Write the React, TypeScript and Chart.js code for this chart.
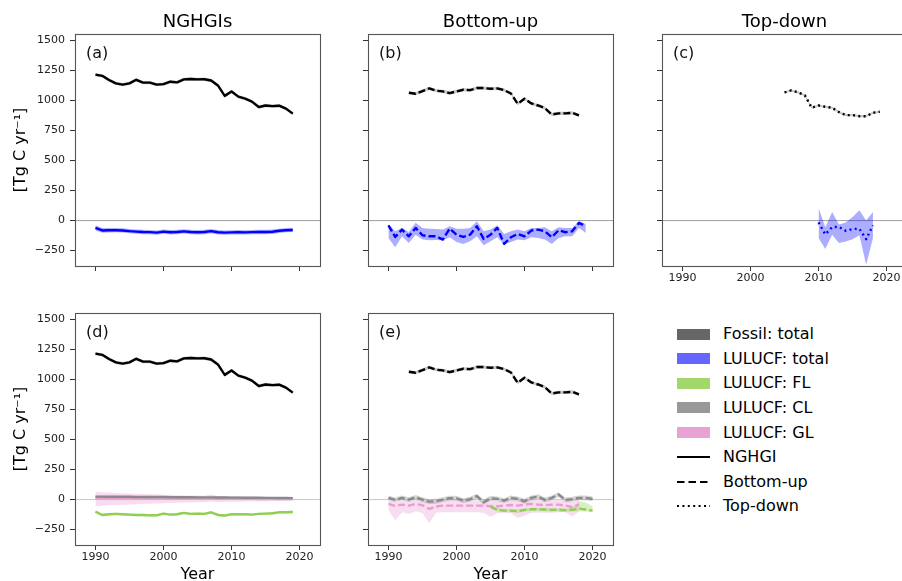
import React, { useEffect, useRef } from 'react';
import { Chart, registerables } from 'chart.js';

Chart.register(...registerables);

const FONT = "'DejaVu Sans', 'Noto Sans', sans-serif";

// ---------------- data ----------------
const X_TICKS = [1990, 2000, 2010, 2020];
const Y_TICKS = [-250, 0, 250, 500, 750, 1000, 1250, 1500];

// NGHGI (national inventories)
const yearsNG = [1990, 1991, 1992, 1993, 1994, 1995, 1996, 1997, 1998, 1999, 2000, 2001, 2002, 2003, 2004, 2005, 2006, 2007, 2008, 2009, 2010, 2011, 2012, 2013, 2014, 2015, 2016, 2017, 2018, 2019];
const fossilNG = [1215, 1205, 1170, 1142, 1132, 1142, 1172, 1148, 1148, 1132, 1136, 1156, 1150, 1175, 1178, 1175, 1176, 1166, 1125, 1038, 1075, 1032, 1015, 990, 945, 958, 953, 956, 932, 890];
const fossilNGUnc = [14, 14, 14, 14, 14, 14, 14, 14, 14, 14, 14, 14, 14, 14, 14, 14, 14, 14, 14, 14, 14, 14, 14, 14, 14, 14, 14, 14, 14, 14];
const lulucfNG = [-60, -82, -80, -80, -82, -88, -92, -95, -96, -100, -92, -97, -95, -90, -95, -97, -95, -88, -97, -100, -98, -97, -98, -96, -95, -95, -93, -85, -80, -78];
const lulucfNGUnc = [22, 20, 19, 18, 18, 18, 18, 18, 18, 18, 18, 18, 18, 18, 18, 18, 18, 18, 18, 18, 18, 18, 18, 18, 18, 18, 18, 18, 18, 18];
const flNG = [-100, -128, -122, -119, -122, -125, -128, -128, -131, -131, -117, -125, -122, -111, -119, -117, -119, -106, -128, -133, -122, -122, -122, -125, -119, -117, -114, -106, -106, -103];
const flNGUnc = [10, 10, 10, 10, 10, 10, 10, 10, 10, 10, 10, 10, 10, 10, 10, 10, 10, 10, 10, 10, 10, 10, 10, 10, 10, 10, 10, 10, 10, 10];
const clNG = [25, 25, 24, 24, 23, 23, 22, 22, 22, 21, 21, 20, 20, 19, 19, 18, 18, 18, 17, 17, 16, 16, 15, 15, 15, 14, 14, 13, 13, 12];
const clNGUnc = [7, 7, 7, 7, 7, 7, 7, 7, 7, 7, 7, 7, 7, 7, 7, 7, 7, 7, 7, 7, 7, 7, 7, 7, 7, 7, 7, 7, 7, 7];
const glNG = [12, 12, 11, 11, 11, 10, 10, 10, 9, 9, 9, 9, 8, 8, 8, 8, 7, 10, 7, 7, 6, 6, 6, 6, 5, 5, 5, 5, 5, 5];
const glNGHigh = [65, 62, 58, 55, 52, 50, 48, 46, 44, 42, 40, 38, 36, 35, 34, 33, 32, 42, 30, 29, 28, 27, 26, 25, 24, 23, 22, 21, 20, 20];
const glNGLow = [-55, -52, -48, -45, -42, -40, -38, -36, -34, -32, -30, -28, -26, -25, -24, -23, -22, -15, -20, -19, -18, -17, -16, -15, -14, -13, -12, -11, -10, -10];

// Bottom-up estimates
const yearsBUFossil = [1993, 1994, 1995, 1996, 1997, 1998, 1999, 2000, 2001, 2002, 2003, 2004, 2005, 2006, 2007, 2008, 2009, 2010, 2011, 2012, 2013, 2014, 2015, 2016, 2017, 2018];
const fossilBU = [1064, 1056, 1078, 1100, 1081, 1075, 1061, 1075, 1089, 1086, 1103, 1103, 1097, 1100, 1086, 1058, 972, 1014, 975, 958, 936, 883, 892, 892, 897, 875];
const fossilBUUnc = [13, 13, 13, 13, 13, 13, 13, 13, 13, 13, 13, 13, 13, 13, 13, 13, 13, 13, 13, 13, 13, 13, 13, 13, 13, 13];
const yearsBULulucf = [1990, 1991, 1992, 1993, 1994, 1995, 1996, 1997, 1998, 1999, 2000, 2001, 2002, 2003, 2004, 2005, 2006, 2007, 2008, 2009, 2010, 2011, 2012, 2013, 2014, 2015, 2016, 2017, 2018, 2019];
const lulucfBU = [-39, -136, -75, -131, -61, -122, -131, -131, -158, -67, -117, -136, -117, -47, -153, -117, -61, -194, -139, -111, -131, -83, -75, -89, -139, -81, -97, -89, -19, -47];
const lulucfBUHigh = [-28, -89, -61, -95, -19, -61, -67, -70, -75, -47, -67, -67, -61, -6, -89, -75, -39, -111, -89, -75, -89, -61, -61, -56, -89, -56, -61, -61, -6, -28];
const lulucfBULow = [-144, -222, -131, -186, -117, -158, -164, -161, -164, -139, -178, -194, -172, -131, -205, -172, -139, -200, -178, -158, -164, -139, -144, -158, -194, -144, -131, -131, -61, -103];
const yearsBUCL = [1990, 1991, 1992, 1993, 1994, 1995, 1996, 1997, 1998, 1999, 2000, 2001, 2002, 2003, 2004, 2005, 2006, 2007, 2008, 2009, 2010, 2011, 2012, 2013, 2014, 2015, 2016, 2017, 2018, 2019, 2020];
const clBU = [14, -3, 14, 0, 19, 0, -17, -14, 0, 11, 11, -8, 3, 28, -22, 11, 6, -8, 14, 6, -14, 14, 25, -3, 14, 42, -3, 3, 14, 14, 6];
const clBUUnc = [20, 20, 20, 20, 20, 20, 20, 20, 20, 20, 20, 20, 20, 20, 20, 20, 20, 20, 20, 20, 20, 20, 20, 20, 20, 20, 20, 20, 20, 20, 20];
const yearsBUGL = [1990, 1991, 1992, 1993, 1994, 1995, 1996, 1997, 1998, 1999, 2000, 2001, 2002, 2003, 2004, 2005, 2006, 2007, 2008, 2009, 2010, 2011, 2012, 2013, 2014, 2015, 2016, 2017, 2018];
const glBU = [-36, -53, -42, -50, -36, -47, -78, -58, -50, -50, -50, -50, -50, -50, -50, -55, -55, -50, -45, -50, -42, -36, -42, -47, -42, -42, -50, -64, -42];
const glBUHigh = [-5, -20, -10, -15, -5, -10, -25, -15, -8, -8, -8, -8, -8, -8, -10, -10, -15, -10, -5, -10, -5, -3, -5, -8, -5, -5, -10, -20, -5];
const glBULow = [-86, -175, -106, -120, -97, -114, -197, -110, -106, -106, -106, -106, -106, -106, -110, -142, -115, -110, -112, -153, -135, -112, -108, -112, -110, -105, -106, -142, -100];
const yearsBUFL = [2005, 2006, 2007, 2008, 2009, 2010, 2011, 2012, 2013, 2014, 2015, 2016, 2017, 2018, 2019, 2020];
const flBU = [-58, -86, -92, -92, -97, -86, -81, -81, -83, -86, -86, -88, -86, -75, -82, -92];
const flBUHigh = [-45, -72, -78, -78, -82, -72, -68, -68, -70, -72, -72, -75, -70, -14, -25, -55];
const flBULow = [-72, -100, -106, -106, -112, -100, -95, -95, -97, -100, -100, -102, -100, -97, -100, -105];

// Top-down (inversions)
const yearsTDFossil = [2005, 2006, 2007, 2008, 2009, 2010, 2011, 2012, 2013, 2014, 2015, 2016, 2017, 2018, 2019];
const fossilTD = [1067, 1083, 1067, 1042, 939, 958, 947, 939, 903, 878, 878, 869, 869, 897, 906];
const fossilTDUnc = [9, 9, 9, 9, 9, 9, 9, 9, 9, 9, 9, 9, 9, 9, 9];
const yearsTDLulucf = [2010, 2011, 2012, 2013, 2014, 2015, 2016, 2017, 2018];
const lulucfTD = [-15, -115, -53, -53, -85, -70, -68, -155, -40];
const lulucfTDHigh = [105, -55, 72, -33, -15, 30, 86, 0, 72];
const lulucfTDLow = [-145, -236, -117, -186, -175, -155, -122, -367, -145];

// ---------------- styling ----------------
const X_MIN = 1987;
const X_MAX = 2023;
const Y_MIN = -378;
const Y_MAX = 1553;

const BLACK = '#000000';
const FOSSIL_BAND = 'rgba(0,0,0,0.22)';
const BLUE = '#0000ff';
const BLUE_BAND = 'rgba(0,0,255,0.32)';
const GREEN = '#8fd04f';
const GREEN_BAND = 'rgba(143,208,79,0.35)';
const GRAY = '#8a8a8a';
const GRAY_BAND = 'rgba(128,128,128,0.32)';
const PINK = '#ea9cd4';
const PINK_BAND = 'rgba(227,119,194,0.25)';

const DASHED = [7, 3];
const DOTTED = [2, 3.3];

type Layer =
  | { type: 'band'; x: number[]; lo: number[]; hi: number[]; fill: string }
  | { type: 'line'; x: number[]; y: number[]; color: string; dash?: number[]; width?: number };

const minus = (a: number[], b: number[]) => a.map((v, i) => v - b[i]);
const plus = (a: number[], b: number[]) => a.map((v, i) => v + b[i]);

interface PanelSpec {
  label: string;
  title?: string;
  left: number; // chart area left (page px)
  top: number; // chart area top (page px)
  yLabels: boolean;
  xLabels: boolean;
  yTitle: boolean;
  xTitle: boolean;
  zeroColor: string;
  zeroWidth: number;
  layers: Layer[];
}

const PLOT_W = 245;
const PLOT_H = 232;
const AXIS_W = 70;
const RIGHT_PAD = 20;

const fossilNGLayers: Layer[] = [
  { type: 'band', x: yearsNG, lo: minus(fossilNG, fossilNGUnc), hi: plus(fossilNG, fossilNGUnc), fill: FOSSIL_BAND },
  { type: 'line', x: yearsNG, y: fossilNG, color: BLACK, width: 2.4 },
];
const fossilBULayers: Layer[] = [
  { type: 'band', x: yearsBUFossil, lo: minus(fossilBU, fossilBUUnc), hi: plus(fossilBU, fossilBUUnc), fill: FOSSIL_BAND },
  { type: 'line', x: yearsBUFossil, y: fossilBU, color: BLACK, dash: DASHED, width: 2.4 },
];

const PANELS: PanelSpec[] = [
  {
    label: '(a)', title: 'NGHGIs', left: 75, top: 34, yLabels: true, xLabels: false, yTitle: true, xTitle: false,
    zeroColor: '#777', zeroWidth: 0.7,
    layers: [
      { type: 'band', x: yearsNG, lo: minus(lulucfNG, lulucfNGUnc), hi: plus(lulucfNG, lulucfNGUnc), fill: BLUE_BAND },
      { type: 'line', x: yearsNG, y: lulucfNG, color: BLUE, width: 2.4 },
      ...fossilNGLayers,
    ],
  },
  {
    label: '(b)', title: 'Bottom-up', left: 368, top: 34, yLabels: false, xLabels: false, yTitle: false, xTitle: false,
    zeroColor: '#777', zeroWidth: 0.7,
    layers: [
      { type: 'band', x: yearsBULulucf, lo: lulucfBULow, hi: lulucfBUHigh, fill: BLUE_BAND },
      { type: 'line', x: yearsBULulucf, y: lulucfBU, color: BLUE, dash: DASHED, width: 2.4 },
      ...fossilBULayers,
    ],
  },
  {
    label: '(c)', title: 'Top-down', left: 662, top: 34, yLabels: false, xLabels: true, yTitle: false, xTitle: false,
    zeroColor: '#777', zeroWidth: 0.7,
    layers: [
      { type: 'band', x: yearsTDLulucf, lo: lulucfTDLow, hi: lulucfTDHigh, fill: BLUE_BAND },
      { type: 'line', x: yearsTDLulucf, y: lulucfTD, color: BLUE, dash: DOTTED, width: 2.4 },
      { type: 'band', x: yearsTDFossil, lo: minus(fossilTD, fossilTDUnc), hi: plus(fossilTD, fossilTDUnc), fill: FOSSIL_BAND },
      { type: 'line', x: yearsTDFossil, y: fossilTD, color: BLACK, dash: DOTTED, width: 2.4 },
    ],
  },
  {
    label: '(d)', left: 75, top: 313, yLabels: true, xLabels: true, yTitle: true, xTitle: true,
    zeroColor: '#c8c8c8', zeroWidth: 1,
    layers: [
      { type: 'band', x: yearsNG, lo: minus(flNG, flNGUnc), hi: plus(flNG, flNGUnc), fill: GREEN_BAND },
      { type: 'line', x: yearsNG, y: flNG, color: GREEN, width: 2.4 },
      { type: 'band', x: yearsNG, lo: glNGLow, hi: glNGHigh, fill: PINK_BAND },
      { type: 'line', x: yearsNG, y: glNG, color: PINK, width: 2.4 },
      { type: 'band', x: yearsNG, lo: minus(clNG, clNGUnc), hi: plus(clNG, clNGUnc), fill: GRAY_BAND },
      { type: 'line', x: yearsNG, y: clNG, color: GRAY, width: 2.4 },
      ...fossilNGLayers,
    ],
  },
  {
    label: '(e)', left: 368, top: 313, yLabels: false, xLabels: true, yTitle: false, xTitle: true,
    zeroColor: '#c8c8c8', zeroWidth: 1,
    layers: [
      { type: 'band', x: yearsBUGL, lo: glBULow, hi: glBUHigh, fill: PINK_BAND },
      { type: 'band', x: yearsBUFL, lo: flBULow, hi: flBUHigh, fill: GREEN_BAND },
      { type: 'band', x: yearsBUCL, lo: minus(clBU, clBUUnc), hi: plus(clBU, clBUUnc), fill: GRAY_BAND },
      { type: 'line', x: yearsBUGL, y: glBU, color: PINK, dash: DASHED, width: 2.4 },
      { type: 'line', x: yearsBUFL, y: flBU, color: GREEN, dash: DASHED, width: 2.4 },
      { type: 'line', x: yearsBUCL, y: clBU, color: GRAY, dash: DASHED, width: 2.4 },
      ...fossilBULayers,
    ],
  },
];

const LEGEND_PATCHES = [
  { label: 'Fossil: total', color: '#666666' },
  { label: 'LULUCF: total', color: '#6666ff' },
  { label: 'LULUCF: FL', color: '#a3d76c' },
  { label: 'LULUCF: CL', color: '#999999' },
  { label: 'LULUCF: GL', color: '#e8a2d3' },
];
const LEGEND_LINES = [
  { label: 'NGHGI', dash: '' },
  { label: 'Bottom-up', dash: '7.5,4' },
  { label: 'Top-down', dash: '2,3.4' },
];

// ---------------- chart helpers ----------------
const pts = (x: number[], y: number[]) => x.map((xx, i) => ({ x: xx, y: y[i] }));

function buildDatasets(layers: Layer[]) {
  const ds: any[] = [];
  layers.forEach((l, i) => {
    const order = layers.length - i;
    if (l.type === 'band') {
      ds.push({
        data: pts(l.x, l.hi), borderColor: 'transparent', borderWidth: 0, pointRadius: 0,
        fill: false, order, tension: 0,
      });
      ds.push({
        data: pts(l.x, l.lo), borderColor: 'transparent', borderWidth: 0, pointRadius: 0,
        fill: '-1', backgroundColor: l.fill, order, tension: 0,
      });
    } else {
      ds.push({
        data: pts(l.x, l.y), borderColor: l.color, borderWidth: l.width ?? 2, borderDash: l.dash ?? [],
        borderCapStyle: 'butt', borderJoinStyle: 'round', pointRadius: 0, fill: false, order, tension: 0,
      });
    }
  });
  return ds;
}

const decorPlugin = {
  id: 'decor',
  beforeDatasetsDraw(chart: any, _args: any, opts: any) {
    const { ctx, chartArea, scales } = chart;
    const y0 = scales.y.getPixelForValue(0);
    ctx.save();
    ctx.strokeStyle = opts.zeroColor;
    ctx.lineWidth = opts.zeroWidth;
    ctx.beginPath();
    ctx.moveTo(chartArea.left, y0);
    ctx.lineTo(chartArea.right, y0);
    ctx.stroke();
    ctx.restore();
  },
  afterDraw(chart: any, _args: any, opts: any) {
    const { ctx, chartArea } = chart;
    ctx.save();
    ctx.strokeStyle = '#555';
    ctx.lineWidth = 1.1;
    ctx.strokeRect(chartArea.left + 0.5, chartArea.top + 0.5, chartArea.right - chartArea.left, chartArea.bottom - chartArea.top);
    ctx.fillStyle = '#111';
    ctx.font = `16px ${FONT}`;
    ctx.textBaseline = 'middle';
    ctx.textAlign = 'left';
    ctx.fillText(opts.label, chartArea.left + 11, chartArea.top + 20);
    ctx.restore();
  },
};

const fmt = (v: number) => String(v).replace('-', '\u2212');

function Panel({ spec }: { spec: PanelSpec }) {
  const ref = useRef<HTMLCanvasElement>(null);
  const hasTitle = !!spec.title;
  const topPad = hasTitle ? spec.top : 20;
  const bottomH = spec.xTitle ? 40 : 30;
  const width = AXIS_W + PLOT_W + RIGHT_PAD;
  const height = topPad + PLOT_H + bottomH;
  const canvasLeft = spec.left - AXIS_W;
  const canvasTop = spec.top - topPad;

  useEffect(() => {
    if (!ref.current) return;
    const chart = new Chart(ref.current, {
      type: 'line',
      data: { datasets: buildDatasets(spec.layers) },
      plugins: [decorPlugin],
      options: {
        animation: false,
        responsive: false,
        events: [],
        layout: { padding: { top: hasTitle ? 0 : topPad, right: RIGHT_PAD, left: 0, bottom: 0 } },
        plugins: {
          legend: { display: false },
          tooltip: { enabled: false },
          title: {
            display: hasTitle,
            text: spec.title ?? '',
            fullSize: false,
            color: '#000',
            font: { family: FONT, size: 18, weight: 'normal', lineHeight: 1.2 },
            padding: { top: spec.top - 21.6 - 0.4, bottom: 0.4 },
          },
          decor: { zeroColor: spec.zeroColor, zeroWidth: spec.zeroWidth, label: spec.label },
        } as any,
        scales: {
          x: {
            type: 'linear',
            min: X_MIN,
            max: X_MAX,
            afterBuildTicks: (s: any) => { s.ticks = X_TICKS.map((v) => ({ value: v })); },
            afterFit: (s: any) => { s.height = bottomH; },
            grid: { drawOnChartArea: false, drawTicks: true, tickLength: 5, color: '#333', lineWidth: 1 },
            border: { display: false },
            ticks: {
              display: true,
              padding: 1,
              color: '#222',
              font: { family: FONT, size: 11 },
              maxRotation: 0,
              autoSkip: false,
              callback: (v: any) => (spec.xLabels ? fmt(Number(v)) : ''),
            },
            title: {
              display: spec.xTitle,
              text: 'Year',
              color: '#000',
              font: { family: FONT, size: 16, lineHeight: 1.2 },
              padding: { top: 0, bottom: 0.4 },
            },
          },
          y: {
            type: 'linear',
            min: Y_MIN,
            max: Y_MAX,
            afterBuildTicks: (s: any) => { s.ticks = Y_TICKS.map((v) => ({ value: v })); },
            afterFit: (s: any) => { s.width = AXIS_W; },
            grid: { drawOnChartArea: false, drawTicks: true, tickLength: 5, color: '#333', lineWidth: 1 },
            border: { display: false },
            ticks: {
              display: true,
              padding: 5,
              color: '#222',
              font: { family: FONT, size: 11 },
              autoSkip: false,
              callback: (v: any) => (spec.yLabels ? fmt(Number(v)) : ''),
            },
            title: {
              display: spec.yTitle,
              text: '[Tg C yr\u207B\u00B9]',
              color: '#000',
              font: { family: FONT, size: 16, lineHeight: 1.2 },
              padding: { top: 21 - canvasLeft - 9.6, bottom: 0 },
            },
          },
        },
      } as any,
    });
    return () => chart.destroy();
  }, []);

  return (
    <div style={{ position: 'absolute', left: canvasLeft, top: canvasTop, width, height }}>
      <canvas ref={ref} width={width} height={height} />
    </div>
  );
}

function Legend() {
  const rowTop = 334.3;
  const rowStep = 24.55;
  const textStyle: React.CSSProperties = {
    position: 'absolute', left: 723, fontFamily: FONT, fontSize: 16, lineHeight: '20px', color: '#000', whiteSpace: 'nowrap',
  };
  const rows: React.ReactNode[] = [];
  LEGEND_PATCHES.forEach((p, i) => {
    const cy = rowTop + i * rowStep;
    rows.push(<div key={'p' + i} style={{ position: 'absolute', left: 677, top: cy - 5.5, width: 33, height: 11, background: p.color }} />);
    rows.push(<div key={'t' + i} style={{ ...textStyle, top: cy - 10 }}>{p.label}</div>);
  });
  LEGEND_LINES.forEach((l, j) => {
    const i = j + LEGEND_PATCHES.length;
    const cy = rowTop + i * rowStep;
    rows.push(
      <svg key={'l' + i} width={34} height={10} style={{ position: 'absolute', left: 677, top: cy - 5 }}>
        <line x1={0} y1={5} x2={33} y2={5} stroke="#000" strokeWidth={2} strokeDasharray={l.dash || undefined} />
      </svg>
    );
    rows.push(<div key={'t' + i} style={{ ...textStyle, top: cy - 10 }}>{l.label}</div>);
  });
  return <>{rows}</>;
}

export default function App() {
  return (
    <div style={{ position: 'absolute', left: 0, top: 0, width: 902, height: 581, overflow: 'hidden', background: '#fff' }}>
      {PANELS.map((p) => (
        <Panel key={p.label} spec={p} />
      ))}
      <Legend />
    </div>
  );
}
